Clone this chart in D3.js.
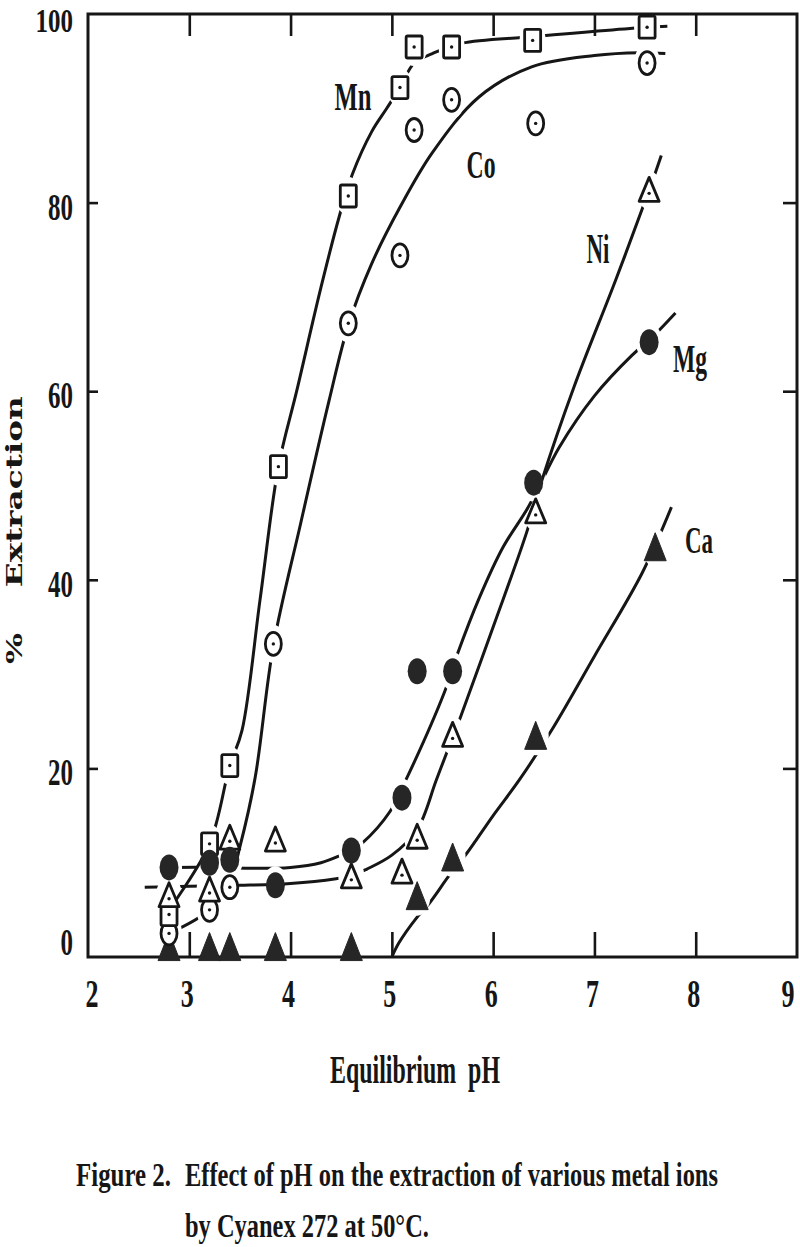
<!DOCTYPE html>
<html><head><meta charset="utf-8">
<script src="https://cdn.jsdelivr.net/npm/d3@7"></script>
<style>body{margin:0;background:#fff}</style>
</head><body><svg id="c" width="800" height="1247"></svg>
<script>
// ---- data ----
const xTicks = [2,3,4,5,6,7,8,9];
const yTicks = [0,20,40,60,80,100];

const mnPH  = [2.8,3.2,3.4,3.88,4.57,5.08,5.22,5.59,6.39,7.52];
const mnVal = [4.5,12,20.3,52,80.7,92.2,96.5,96.5,97.2,98.6];
const coPH  = [2.8,3.2,3.4,3.83,4.57,5.08,5.22,5.59,6.42,7.52];
const coVal = [2.5,5,7.4,33.2,67.2,74.4,87.7,90.9,88.4,94.8];
const niPH  = [2.8,3.2,3.4,3.85,4.6,5.1,5.25,5.6,6.42,7.54];
const niVal = [6.5,7.1,12.6,12.4,8.5,9,12.7,23.5,47.2,81.3];
const mgPH  = [2.8,3.2,3.4,3.85,4.6,5.1,5.25,5.6,6.4,7.54];
const mgVal = [9.5,10,10.3,7.6,11.3,16.9,30.3,30.3,50.3,65.2];
const caPH  = [2.8,3.2,3.4,3.85,4.6,5.25,5.6,6.42,7.6];
const caVal = [1,1,1,1,1,6.4,10.5,23.4,43.4];

// hand-drawn fitted curves
const mnFitPH  = [2.8,3.2,3.4,3.52,3.7,3.88,4.06,4.3,4.48,4.61,4.8,4.95,5.08,5.22,5.4,5.69,6.39,7.52,7.72];
const mnFitVal = [5,12,20.3,24,38,52,60,71,78.5,83,87.5,90,92.2,94.8,95.8,96.9,97.6,98.6,98.7];
const coFitPH  = [2.8,3.2,3.4,3.5,3.65,3.83,4.1,4.38,4.57,4.8,5.08,5.4,5.86,6.38,7.0,7.44,7.7];
const coFitVal = [2.5,5,8,11.7,19,33,46,59,67,73.5,79.5,85.3,91.2,94.4,95.6,95.9,95.8];
const niFitPH  = [2.56,3.0,3.5,4.0,4.45,4.6,4.75,5.0,5.25,5.44,5.6,5.68,6.0,6.33,6.48,6.8,7.21,7.54,7.66];
const niFitVal = [7.4,7.5,7.6,7.8,8.3,8.6,9.3,10.8,13.5,18.8,23.3,25.5,35,45,50.5,60.5,71.8,81.3,85];
const mgFitPH  = [2.85,3.2,3.6,4.0,4.3,4.5,4.6,4.71,4.98,5.14,5.52,5.65,5.86,6.1,6.33,6.45,6.65,7.0,7.37,7.54,7.8];
const mgFitVal = [9.5,9.5,9.4,9.5,10,10.8,11.3,12.1,15.4,18.8,28.1,32.2,38,43.5,47.4,49.8,54,59.5,63.8,65.4,68.3];
const caFitPH  = [5.0,5.07,5.24,5.37,5.57,5.74,6.0,6.26,6.58,7.0,7.47,7.76];
const caFitVal = [0,1.5,4.1,5.7,8.7,11,15,18.8,24.1,31.9,40.7,47.7];

const seriesNames = ["Mn","Co","Ni","Mg","Ca"];

// ---- drawing ----
const svg = d3.select("#c");
const FONT = "'Liberation Serif','Times New Roman',serif";
const INK = "#161616";
const x = d3.scaleLinear().domain([2,9]).range([88,797]);
const y = d3.scaleLinear().domain([0,100]).range([957,14]);

const series = [
  {name:"Ca", ph:caPH, val:caVal, fph:caFitPH, fval:caFitVal, shape:"ftri", label:[699,553,38,28]},
  {name:"Co", ph:coPH, val:coVal, fph:coFitPH, fval:coFitVal, shape:"ocirc", label:[481,178,40,29]},
  {name:"Mn", ph:mnPH, val:mnVal, fph:mnFitPH, fval:mnFitVal, shape:"osq", label:[353,110,40,37]},
  {name:"Ni", ph:niPH, val:niVal, fph:niFitPH, fval:niFitVal, shape:"otri", label:[598,263,42,23]},
  {name:"Mg", ph:mgPH, val:mgVal, fph:mgFitPH, fval:mgFitVal, shape:"fcirc", label:[690,372,40,34]}
];

const defs = svg.append("defs");
const line = d3.line().x(d=>x(d[0])).y(d=>y(d[1])).curve(d3.curveCatmullRom.alpha(0.5));

// masks to break each line around its own markers
series.forEach(s=>{
  const m = defs.append("mask").attr("id","m"+s.name).attr("maskUnits","userSpaceOnUse")
    .attr("x",0).attr("y",0).attr("width",800).attr("height",1247);
  m.append("rect").attr("width",800).attr("height",1247).attr("fill","#fff");
  s.ph.forEach((p,i)=>{
    m.append("ellipse").attr("cx",x(p)).attr("cy",y(s.val[i])).attr("rx",13).attr("ry",19).attr("fill","#000");
  });
});

// frame
svg.append("rect").attr("x",x(2)).attr("y",y(100)).attr("width",x(9)-x(2)).attr("height",y(0)-y(100))
  .attr("fill","none").attr("stroke",INK).attr("stroke-width",3);

// axes ticks (inward)
const inner = [3,4,5,6,7,8];
const tickStyle = g=>{ g.select(".domain").remove(); g.selectAll("line").attr("stroke",INK).attr("stroke-width",2.6); };
svg.append("g").attr("transform",`translate(0,${y(0)})`)
  .call(d3.axisBottom(x).tickValues(inner).tickSize(-25).tickFormat("")).call(tickStyle);
svg.append("g").attr("transform",`translate(0,${y(100)})`)
  .call(d3.axisTop(x).tickValues(inner).tickSize(-22).tickFormat("")).call(tickStyle);
svg.append("g").attr("transform",`translate(${x(2)},0)`)
  .call(d3.axisLeft(y).tickValues([20,40,60,80]).tickSize(-10).tickFormat("")).call(tickStyle);
svg.append("g").attr("transform",`translate(${x(9)},0)`)
  .call(d3.axisRight(y).tickValues([20,40,60,80]).tickSize(-14).tickFormat("")).call(tickStyle);

// condensed text: scale horizontally to a target width
function txt(px,py,s,size,len,anchor,fam,rot){
  const g = svg.append("g");
  const t = g.append("text").attr("x",0).attr("y",0).text(s)
    .attr("font-family",fam||FONT).attr("font-weight","bold").attr("font-size",size)
    .attr("fill",INK).attr("text-anchor",anchor||"middle");
  const w = t.node().getComputedTextLength() || len;
  const sx = len / w;
  g.attr("transform",`translate(${px},${py})${rot?` rotate(${rot})`:""} scale(${sx},1)`);
  return t;
}

// tick labels
yTicks.forEach(v=>{
  const s = String(v);
  const top = v===100;
  txt(73, v===0 ? y(0)-2 : (top ? y(v)+18 : y(v)+17), s, top ? 33 : 37, s.length*12.5, "end");
});
xTicks.forEach(v=>{
  txt(x(v)-2 + (v===2?6:0) + (v===9?-7:0), 1007, String(v), 40, 13, "middle");
});

// axis titles
txt(415, 1083, "Equilibrium\u00a0\u00a0pH", 40, 170, "middle");
txt(22, 530, "%\u00a0\u00a0\u00a0\u00a0Extraction", 22, 268, "middle", "'DejaVu Serif',serif", -90);

// fitted curves
series.forEach(s=>{
  const pts = s.fph.map((p,i)=>[p,s.fval[i]]);
  svg.append("path").attr("d",line(pts)).attr("fill","none").attr("stroke",INK)
    .attr("stroke-width",3).attr("stroke-linecap","butt").attr("mask",`url(#m${s.name})`);
});

// markers
const drawMarker = (g,shape)=>{
  const sw = 2.8;
  if(shape==="osq"){
    g.append("rect").attr("x",-8).attr("y",-11).attr("width",16).attr("height",22).attr("rx",1.5)
      .attr("fill","#fff").attr("stroke",INK).attr("stroke-width",sw);
    g.append("circle").attr("r",1.7).attr("fill",INK);
  } else if(shape==="ocirc"){
    g.append("ellipse").attr("rx",8).attr("ry",11.5).attr("fill","#fff").attr("stroke",INK).attr("stroke-width",sw);
    g.append("circle").attr("r",1.7).attr("fill",INK);
  } else if(shape==="otri"){
    g.append("path").attr("d","M0,-13 L10,11 L-10,11 Z").attr("fill","#fff").attr("stroke",INK)
      .attr("stroke-width",sw).attr("stroke-linejoin","round");
    g.append("circle").attr("cy",3).attr("r",1.7).attr("fill",INK);
  } else if(shape==="fcirc"){
    g.append("ellipse").attr("rx",9.5).attr("ry",13).attr("fill","#262626");
  } else if(shape==="ftri"){
    g.append("path").attr("d","M0,-15 L11,13 L-11,13 Z").attr("fill","#262626")
      .attr("stroke","#262626").attr("stroke-width",1).attr("stroke-linejoin","round");
  }
};
series.forEach(s=>{
  s.ph.forEach((p,i)=>{
    const g = svg.append("g").attr("transform",`translate(${x(p)},${y(s.val[i])})`);
    drawMarker(g,s.shape);
  });
});

// series labels
series.forEach(s=>{
  const [lx,ly,fs,w] = s.label;
  txt(lx,ly,s.name,fs,w,"middle");
});

// caption
txt(76, 1186, "Figure 2.", 34, 95, "start");
txt(185, 1186, "Effect of pH on the extraction of various metal ions", 34, 533, "start");
txt(185, 1237, "by Cyanex 272 at 50°C.", 34, 244, "start");
</script>
</body></html>
